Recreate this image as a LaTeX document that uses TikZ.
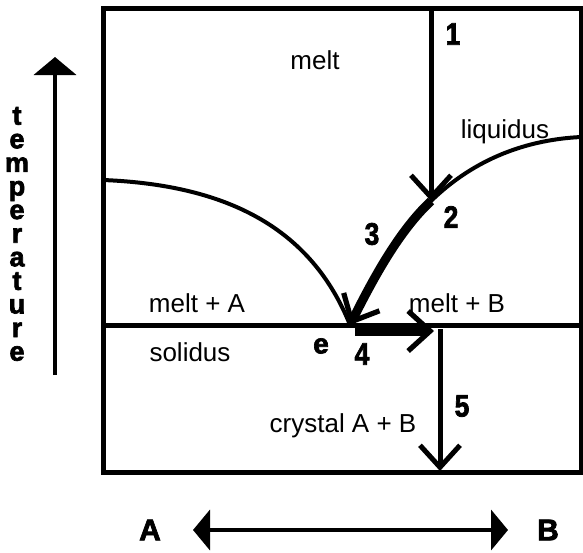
\documentclass[tikz,border=0pt]{standalone}
\usepackage{fontspec}
\setsansfont{Liberation Sans}
\newfontfamily\heavyfont[BoldFeatures={FakeBold=2.5}]{Liberation Sans}
\usetikzlibrary{arrows.meta}

\begin{document}
\begin{tikzpicture}[font=\sffamily\fontsize{13}{15}\selectfont, x=0.5pt, y=-0.5pt,
  num/.style={font=\heavyfont\bfseries\fontsize{15.5}{17}\selectfont, xscale=0.85},
  cool/.style={line width=2.5pt, -{Straight Barb[length=11pt,width=20pt,line width=2.5pt]}},
  fast/.style={line width=4.5pt, -{Straight Barb[length=11pt,width=20pt,line width=2.6pt]}},
  axis/.style={line width=2.3pt}]
  \useasboundingbox (0,0) rectangle (583,552);
  % frame and solidus
  \draw[line width=2.5pt] (103,8) rectangle (581,472);
  \draw[line width=2.5pt] (103,325) -- (581,325);
  % key points
  \coordinate (p1) at (431,8);
  \coordinate (p2) at (431,201);
  \coordinate (eut) at (350,325);
  \coordinate (s0) at (355,331);
  \coordinate (s1) at (434,331);
  \coordinate (c0) at (440,329);
  \coordinate (c1) at (440,471);
  % liquidus curves
  \draw[line width=2pt] (103,180) .. controls (230,185) and (312,230) .. (eut);
  \draw[line width=2pt] (eut) .. controls (375,275) and (400,230) .. (p2)
    .. controls (470,163) and (520,140) .. (581,137);
  % cooling path
  \draw[cool] (p1) -- (p2);
  \draw[fast] (p2) .. controls (400,230) and (375,275) .. (eut);
  \draw[fast] (s0) -- (s1);
  \draw[cool] (c0) -- (c1);
  % fields
  \node (melt) at (315,60) {melt};
  \node (liq) at (505,132) {liquidus};
  \node (meltA) at (197,303) {melt + A};
  \node (sol) at (190,352) {solidus};
  \node (meltB) at (457,303) {melt + B};
  \node (cryst) at (343,426) {crystal A + B};
  \node[font=\heavyfont\bfseries\fontsize{14}{16}\selectfont] (elab) at (321,346) {e};
  % steps
  \node[num] (n1) at (453,34) {1};
  \node[num] (n2) at (451,217) {2};
  \node[num] (n3) at (372,234) {3};
  \node[num] (n4) at (362,354) {4};
  \node[num] (n5) at (462,406) {5};
  % temperature axis
  \coordinate (t0) at (55,375);
  \coordinate (t1) at (55,57);
  \draw[axis, -{Triangle[length=9pt,width=21pt]}] (t0) -- (t1);
  \node[align=center, inner sep=0, font=\heavyfont\bfseries\fontsize{13.5}{11.8}\selectfont] (temp) at (17,234)
    {t\\e\\m\\p\\e\\r\\a\\t\\u\\r\\e};
  % composition axis
  \node[font=\heavyfont\bfseries\fontsize{15}{17}\selectfont] (labA) at (150,530) {A};
  \node[font=\heavyfont\bfseries\fontsize{15}{17}\selectfont] (labB) at (548,530) {B};
  \coordinate (a0) at (193,530);
  \coordinate (b0) at (508,530);
  \draw[axis, {Triangle[length=8.5pt,width=20pt]}-{Triangle[length=8.5pt,width=20pt]}] (a0) -- (b0);
\end{tikzpicture}
\end{document}
